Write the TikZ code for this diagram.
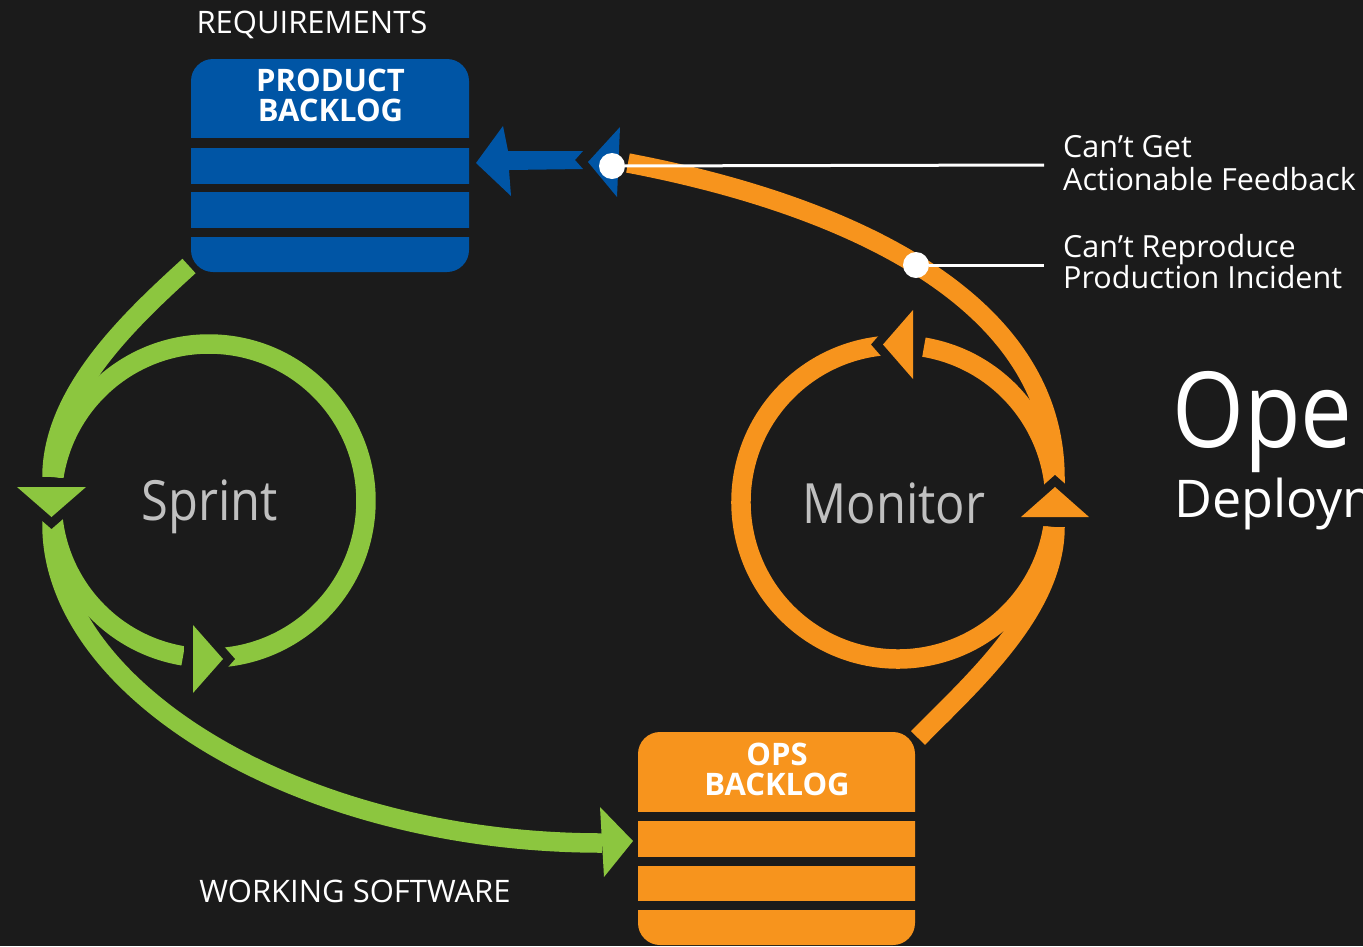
\documentclass[tikz,border=0pt]{standalone}
\usepackage{fontspec}
\setmainfont{Open Sans}
\newfontfamily\narrowfont{Open Sans}[FakeStretch=0.88]
\definecolor{bgc}{HTML}{1B1B1B}
\definecolor{grn}{HTML}{8CC63F}
\definecolor{org}{HTML}{F7941D}
\definecolor{blu}{HTML}{0055A5}
\definecolor{txtgray}{HTML}{C0C0C0}
\begin{document}
\begin{tikzpicture}[x=1pt,y=-1pt,
  gband/.style={draw=grn,line width=19.5pt,line cap=butt},
  oband/.style={draw=org,line width=19.5pt,line cap=butt},
  cutter/.style={draw=bgc,line width=18pt,line join=miter,miter limit=2},
  box/.style={rectangle,rounded corners=22pt,inner sep=0pt,minimum height=213pt},
  gapbar/.style={fill=bgc},
  hdr/.style={text=white,font=\bfseries\fontsize{31}{30}\selectfont,align=center,inner sep=0pt},
  caps/.style={text=white,font=\fontsize{31}{34}\selectfont,inner sep=0pt,anchor=base},
  loop/.style={text=txtgray,font=\narrowfont\fontsize{55.5}{60}\selectfont,inner sep=0pt,anchor=base},
  note/.style={text=white,font=\fontsize{30.5}{33}\selectfont,inner sep=0pt,anchor=base west},
  dot/.style={circle,fill=white,inner sep=0pt,minimum size=26pt},
  leader/.style={draw=white,line width=3pt}
]
\fill[bgc] (0,0) rectangle (1363,946);
\useasboundingbox (0,0) rectangle (1363,946);

% ---------- green bands ----------
\coordinate (gtopA) at (189,266);
\coordinate (gtopB) at (52,477);
\draw[gband] (gtopA) .. controls (132,318) and (52,392) .. (gtopB);
\coordinate (gA) at (52.1,506.5);
\draw[gband] (gA) arc[start angle=178,end angle=99.5,radius=157];
\coordinate (gB) at (195.3,657.4);
\draw[gband] (gB) arc[start angle=95,end angle=-171.2,radius=157];
\coordinate (gLow) at (52,505);
\coordinate (gEnd) at (602,843);
\draw[gband] (gLow) -- (52,525) .. controls (52,690) and (300,843) .. (gEnd);

% ---------- orange bands ----------
\coordinate (oLowA) at (918,738);
\coordinate (oLowB) at (1055,527);
\draw[oband] (oLowA) .. controls (972,683) and (1055,610) .. (oLowB);
\coordinate (oD) at (892.5,345.1);
\draw[oband] (oD) arc[start angle=268,end angle=9.2,radius=157];
\coordinate (oE) at (1054.9,507.5);
\draw[oband] (oE) arc[start angle=2,end angle=-80.5,radius=157];
\coordinate (oBig) at (1055,507);
\coordinate (oTop) at (628,163);
\draw[oband] (oBig) -- (1055,478) .. controls (1055,291) and (828,201) .. (oTop);

% ---------- triangles with cut-outs ----------
\draw[cutter] (17,487) -- (86,487) -- (51.5,517) -- cycle;
\fill[grn] (17,487) -- (86,487) -- (51.5,517) -- cycle;
\draw[cutter] (193,625) -- (193,693) -- (223,659) -- cycle;
\fill[grn] (193,625) -- (193,693) -- (223,659) -- cycle;
\fill[grn] (600,807) -- (604,877) -- (633,841) -- cycle;
\draw[cutter] (1021,517) -- (1089,517) -- (1055,487) -- cycle;
\fill[org] (1021,517) -- (1089,517) -- (1055,487) -- cycle;
\draw[cutter] (913,310) -- (913,379) -- (883,344.5) -- cycle;
\fill[org] (913,310) -- (913,379) -- (883,344.5) -- cycle;

% ---------- blue arrow ----------
\fill[blu] (476,163) -- (503,126) -- (508,151) -- (583,151) -- (575,160) -- (583,169)
  -- (509,170) -- (511,196) -- cycle;
\fill[blu] (620,127) -- (617,197) -- (588,162) -- cycle;

% ---------- backlogs ----------
\node[box,fill=blu,minimum width=278pt] (pb) at (330,165.5) {};
\fill[gapbar] (189,138) rectangle (471,148);
\fill[gapbar] (189,184) rectangle (471,192);
\fill[gapbar] (189,228) rectangle (471,237);
\node[hdr] (pbt) at (330.5,95.5) {PRODUCT\\BACKLOG};

\node[box,fill=org,minimum width=277pt] (ob) at (776.5,838.5) {};
\fill[gapbar] (636,812) rectangle (917,821);
\fill[gapbar] (636,857) rectangle (917,866);
\fill[gapbar] (636,901) rectangle (917,910);
\node[hdr] (obt) at (777,769) {OPS\\BACKLOG};

% ---------- callouts ----------
\coordinate (e1) at (1044,165);
\coordinate (e2) at (1044,265);
\node[dot] (d1) at (612,166) {};
\node[dot] (d2) at (916,265) {};
\draw[leader] (d1) -- (e1);
\draw[leader] (d2) -- (e2);
\node[note] (n1a) at (1063,157) {Can’t Get};
\node[note] (n1b) at (1063,190) {Actionable Feedback};
\node[note] (n2a) at (1063,257) {Can’t Reproduce};
\node[note] (n2b) at (1063,288) {Production Incident};

% ---------- labels ----------
\node[caps] (req) at (312,33) {REQUIREMENTS};
\node[caps] (ws) at (355,902) {WORKING SOFTWARE};
\node[loop] (sp) at (209.5,520) {Sprint};
\node[loop] (mo) at (894,523) {Monitor};
\node[text=white,font=\narrowfont\fontsize{105}{110}\selectfont,inner sep=0pt,anchor=base west] (ops) at (1172,447) {Ope};
\node[text=white,font=\fontsize{52}{56}\selectfont,inner sep=0pt,anchor=base west] (dep) at (1174,517) {Deploym};
\end{tikzpicture}
\end{document}
